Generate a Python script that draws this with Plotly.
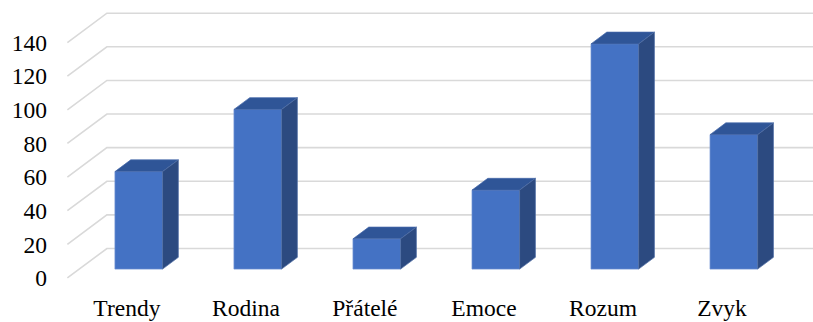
import plotly.graph_objects as go

# Data
categories = ["Trendy", "Rodina", "Přátelé", "Emoce", "Rozum", "Zvyk"]
values = [58, 95, 18, 47, 134, 80]
y_ticks = [0, 20, 40, 60, 80, 100, 120, 140]

# Oblique 3-D projection: how far the back wall sits from the front plane,
# expressed in axis units (x = category slots, y = value units)
SLOT_PX = 119.0          # pixel width of one category slot
VAL_PX = 1.686           # pixels per value unit
DX = 39.5 / SLOT_PX      # full depth, horizontal shift
DY = 29.5 / VAL_PX       # full depth, vertical shift
BAR_LO, BAR_HI = 0.3, 0.7   # bar extent inside a slot (width and depth)

FRONT = "#4472C4"
TOP = "#2F5597"
SIDE = "#2C4A80"
GRID = "#D9D9D9"

W, H = 813, 322
X_MIN, Y_MIN, Y_MAX = -0.02, -6, 160
LEFT = 67.5 + X_MIN * SLOT_PX
X_MAX = X_MIN + (W - LEFT) / SLOT_PX
TOP_M = 278.3 - Y_MAX * VAL_PX
BOTTOM_M = H - (278.3 - Y_MIN * VAL_PX)

fig = go.Figure()


def proj(x, v, d):
    """Point at category position x, value v and depth d (0 front .. 1 back)."""
    return x + d * DX, v + d * DY


# Side-wall diagonals and back-wall gridlines
for t in y_ticks:
    x0, y0 = proj(0, t, 0)
    x1, y1 = proj(0, t, 1)
    x2, y2 = proj(len(categories), t, 1)
    fig.add_trace(go.Scatter(
        x=[x0, x1, x2], y=[y0, y1, y2], mode="lines",
        line=dict(color=GRID, width=1.6), hoverinfo="skip", showlegend=False))

# 3-D columns: front, top and right side faces
for i, (cat, v) in enumerate(zip(categories, values)):
    xl, xr = i + BAR_LO, i + BAR_HI
    fbl = proj(xl, 0, BAR_LO)
    fbr = proj(xr, 0, BAR_LO)
    ftl = proj(xl, v, BAR_LO)
    ftr = proj(xr, v, BAR_LO)
    btl = proj(xl, v, BAR_HI)
    btr = proj(xr, v, BAR_HI)
    bbr = proj(xr, 0, BAR_HI)
    faces = [
        ([fbl, fbr, ftr, ftl], FRONT, "rgba(110,145,210,0.9)"),
        ([ftl, ftr, btr, btl], TOP, "rgba(70,105,170,0.9)"),
        ([fbr, bbr, btr, ftr], SIDE, "rgba(80,110,165,0.9)"),
    ]
    for pts, fill, edge in faces:
        xs = [p[0] for p in pts] + [pts[0][0]]
        ys = [p[1] for p in pts] + [pts[0][1]]
        fig.add_trace(go.Scatter(
            x=xs, y=ys, mode="lines", fill="toself", fillcolor=fill,
            line=dict(color=edge, width=0.8), name=cat,
            hovertemplate=f"{cat}: {v}<extra></extra>", showlegend=False))

font = dict(family="Liberation Serif", size=23.5, color="#000000")

fig.update_layout(
    width=W, height=H,
    margin=dict(l=LEFT, r=0, t=TOP_M, b=BOTTOM_M, pad=0),
    paper_bgcolor="white", plot_bgcolor="white",
    font=font,
    xaxis=dict(
        range=[X_MIN, X_MAX], showgrid=False, zeroline=False, showline=False,
        tickvals=[i + 0.5 for i in range(len(categories))], ticktext=categories,
        ticks="", ticklabelstandoff=3, tickfont=font, fixedrange=True),
    yaxis=dict(
        range=[Y_MIN, Y_MAX], showgrid=False, zeroline=False, showline=False,
        tickvals=y_ticks, ticktext=[str(t) for t in y_ticks],
        ticks="", ticklabelstandoff=17, tickfont=font, fixedrange=True),
)

fig.write_html("out.html")
